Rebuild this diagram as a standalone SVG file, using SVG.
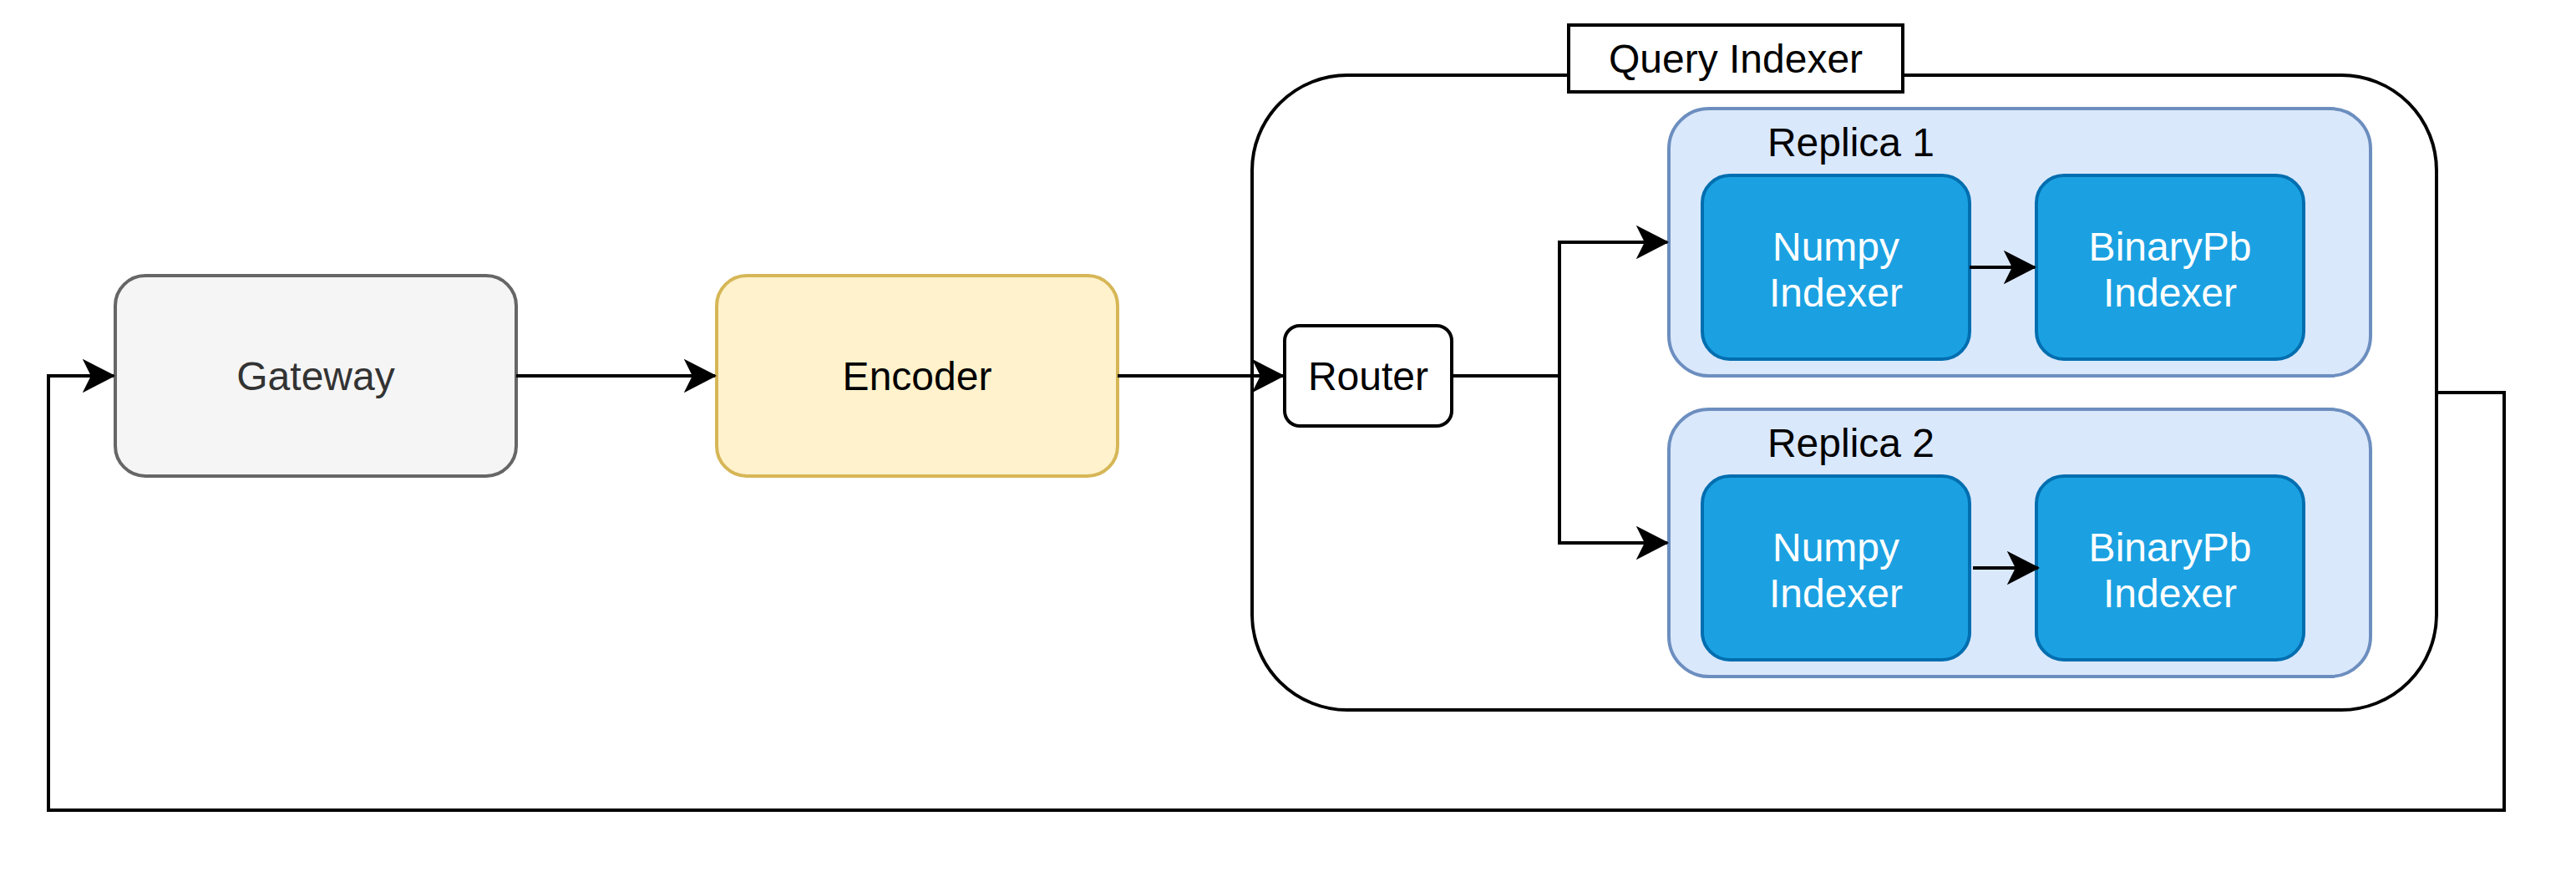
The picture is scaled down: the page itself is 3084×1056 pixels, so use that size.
<svg xmlns="http://www.w3.org/2000/svg" width="3084" height="1056" viewBox="0 0 3084 1056">
<style>
text{font-family:"Liberation Sans",Arial,sans-serif;font-size:48px;text-anchor:middle}
.edge{fill:none;stroke:#000;stroke-width:4}
.white{fill:#fff}
.idx rect{fill:#1ba1e2;stroke:#006eaf;stroke-width:4}
.idx text{fill:#fff}
.rep rect{fill:#dae8fc;stroke:#6c8ebf;stroke-width:4}
</style>
<defs>
<marker id="arr" viewBox="-37 -20 39 40" refX="0" refY="0" markerWidth="39" markerHeight="40" markerUnits="userSpaceOnUse" orient="auto">
<path d="M0,0 L-35,-18 L-26,0 L-35,18 Z" fill="#000" stroke="#000" stroke-width="2" stroke-linejoin="miter"/>
</marker>
</defs>
<rect width="3084" height="1056" fill="#fff"/>
<g id="query-indexer">
<rect x="1499" y="90" width="1418" height="760" rx="114" fill="#fff" stroke="#000" stroke-width="4"/>
<rect x="1878" y="30" width="400" height="80" fill="#fff" stroke="#000" stroke-width="4"/>
<text x="2078" y="87">Query Indexer</text>
</g>
<g id="gateway">
<rect x="138" y="330" width="480" height="240" rx="36" fill="#f5f5f5" stroke="#666" stroke-width="4"/>
<text x="378" y="467" fill="#333">Gateway</text>
</g>
<g id="encoder">
<rect x="858" y="330" width="480" height="240" rx="36" fill="#fff2cc" stroke="#d6b656" stroke-width="4"/>
<text x="1098" y="467">Encoder</text>
</g>
<g id="router">
<rect x="1538" y="390" width="200" height="120" rx="18" fill="#fff" stroke="#000" stroke-width="4"/>
<text x="1638" y="467">Router</text>
</g>
<g id="replica-1" class="rep">
<rect x="1998" y="130" width="840" height="320" rx="48"/>
<text x="2216" y="187">Replica 1</text>
</g>
<g id="numpy-indexer-1" class="idx">
<rect x="2038" y="210" width="320" height="220" rx="33"/>
<text x="2198" y="312">Numpy</text>
<text x="2198" y="367">Indexer</text>
</g>
<g id="binarypb-indexer-1" class="idx">
<rect x="2438" y="210" width="320" height="220" rx="33"/>
<text x="2598" y="312">BinaryPb</text>
<text x="2598" y="367">Indexer</text>
</g>
<g id="replica-2" class="rep">
<rect x="1998" y="490" width="840" height="320" rx="48"/>
<text x="2216" y="547">Replica 2</text>
</g>
<g id="numpy-indexer-2" class="idx">
<rect x="2038" y="570" width="320" height="220" rx="33"/>
<text x="2198" y="672">Numpy</text>
<text x="2198" y="727">Indexer</text>
</g>
<g id="binarypb-indexer-2" class="idx">
<rect x="2438" y="570" width="320" height="220" rx="33"/>
<text x="2598" y="672">BinaryPb</text>
<text x="2598" y="727">Indexer</text>
</g>
<g id="connectors">
<path class="edge" d="M618,450 L856,450" marker-end="url(#arr)"/>
<path class="edge" d="M1338,450 L1536,450" marker-end="url(#arr)"/>
<path class="edge" d="M1738,450 L1867,450 L1867,290 L1996,290" marker-end="url(#arr)"/>
<path class="edge" d="M1738,450 L1867,450 L1867,650 L1996,650" marker-end="url(#arr)"/>
<path class="edge" d="M2358,320 L2436,320" marker-end="url(#arr)"/>
<path class="edge" d="M2362,680 L2440,680" marker-end="url(#arr)"/>
<path class="edge" d="M2917,470 L2998,470 L2998,970 L58,970 L58,450 L136,450" marker-end="url(#arr)"/>
</g>
</svg>
